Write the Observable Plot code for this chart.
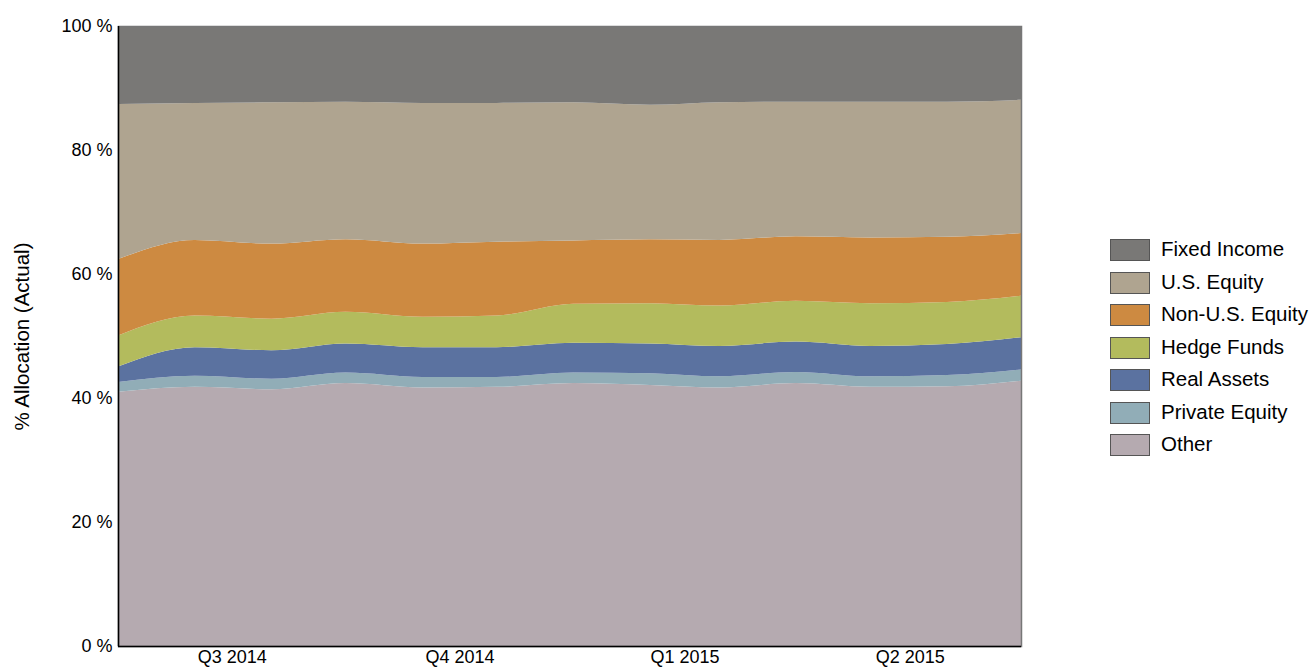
<!DOCTYPE html>
<html>
<head>
<meta charset="utf-8">
<script src="https://cdn.jsdelivr.net/npm/d3@7"></script>
<script src="https://cdn.jsdelivr.net/npm/@observablehq/plot@0.6"></script>
<style>
  html, body { margin: 0; padding: 0; background: #fff; }
  #wrap { position: relative; width: 1312px; height: 671px; font-family: "Liberation Sans", Arial, sans-serif; }
  #legend { position: absolute; left: 1110px; top: 239px; }
  .row { position: relative; height: 32.5px; }
  .sw { position: absolute; left: 0; top: 0; width: 38px; height: 20px; border: 1px solid #555; }
  .lb { position: absolute; left: 51px; top: -2px; font-size: 20.5px; color: #000; white-space: nowrap; line-height: 24px; }
</style>
</head>
<body>
<div id="wrap"><div id="chart"></div><div id="legend"></div></div>
<script>
const months = ["2014-06-30","2014-07-31","2014-08-31","2014-09-30","2014-10-31","2014-11-30","2014-12-31",
                "2015-01-31","2015-02-28","2015-03-31","2015-04-30","2015-05-31","2015-06-30"];
const categories = ["Other","Private Equity","Real Assets","Hedge Funds","Non-U.S. Equity","U.S. Equity","Fixed Income"];
const colors = ["#b5aab0","#91adb7","#5b72a0","#b3bb5d","#cd8a41","#afa490","#797876"];
const other         = [41.0,41.8,41.4,42.4,41.7,41.8,42.4,42.1,41.7,42.4,41.8,41.9,42.8];
const privateEquity = [1.6,1.8,1.7,1.7,1.7,1.6,1.7,1.9,1.8,1.8,1.7,1.8,1.8];
const realAssets    = [2.5,4.6,4.6,4.7,4.8,4.8,4.8,4.8,4.9,4.9,4.9,5.0,5.2];
const hedgeFunds    = [5.0,5.1,5.1,5.1,4.9,5.1,6.3,6.5,6.5,6.6,6.9,6.8,6.7];
const nonUSEquity   = [12.3,12.2,12.1,11.7,11.8,11.9,10.2,10.3,10.6,10.4,10.6,10.5,10.1];
const usEquity      = [25.0,22.1,22.8,22.2,22.7,22.4,22.3,21.7,22.2,21.7,21.9,21.8,21.5];
const fixedIncome   = [12.6,12.4,12.3,12.2,12.4,12.4,12.3,12.7,12.3,12.2,12.2,12.2,11.9];
const tickDates  = ["2014-08-15","2014-11-15","2015-02-14","2015-05-16"];
const tickLabels = ["Q3 2014","Q4 2014","Q1 2015","Q2 2015"];
const yTicks = [0,20,40,60,80,100];

const seriesValues = [other, privateEquity, realAssets, hedgeFunds, nonUSEquity, usEquity, fixedIncome];
const data = [];
categories.forEach((c, i) => {
  months.forEach((m, j) => data.push({date: new Date(m), category: c, value: seriesValues[i][j]}));
});
const tickDateObjs = tickDates.map(d => new Date(d));

const chart = Plot.plot({
  width: 1312,
  height: 671,
  marginLeft: 118,
  marginRight: 291,
  marginTop: 26,
  marginBottom: 25,
  style: {fontFamily: "'Liberation Sans', Arial, sans-serif", fontSize: "18px", color: "#000", background: "#fff"},
  x: {type: "time", domain: [new Date(months[0]), new Date(months[months.length - 1])]},
  y: {domain: [0, 100]},
  color: {domain: categories, range: colors},
  marks: [
    Plot.areaY(data, {x: "date", y: "value", z: "category", fill: "category",
      order: categories, curve: "monotone-x"}),
    Plot.frame({stroke: "#777", strokeWidth: 1.5}),
    Plot.ruleX([new Date(months[0])], {stroke: "#000", strokeWidth: 1.5}),
    Plot.ruleY([0], {stroke: "#000", strokeWidth: 1.5}),
    Plot.axisX(tickDateObjs, {tickSize: 0, tickPadding: 4, fontSize: 18,
      tickFormat: (d) => tickLabels[tickDateObjs.findIndex(t => +t === +d)], label: null}),
    Plot.axisY(yTicks, {tickSize: 0, tickPadding: 6, fontSize: 18,
      tickFormat: d => d + " %", label: null}),
    Plot.text(["% Allocation (Actual)"], {frameAnchor: "left", dx: -96, rotate: -90, fontSize: 20.5,
      textAnchor: "middle"})
  ]
});
document.getElementById("chart").appendChild(chart);

const legend = document.getElementById("legend");
categories.slice().reverse().forEach((c) => {
  const i = categories.indexOf(c);
  const row = document.createElement("div");
  row.className = "row";
  row.innerHTML = `<div class="sw" style="background:${colors[i]}"></div><div class="lb">${c}</div>`;
  legend.appendChild(row);
});
</script>
</body>
</html>
